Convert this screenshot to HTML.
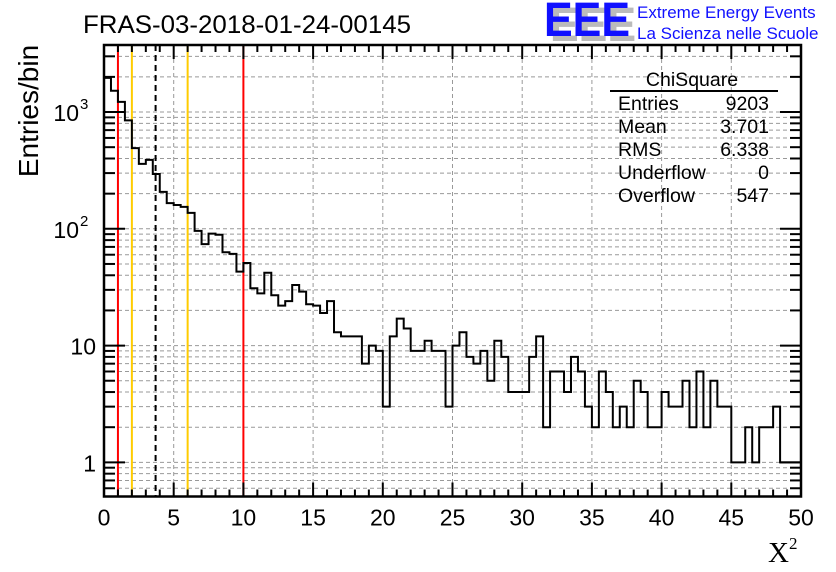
<!DOCTYPE html>
<html><head><meta charset="utf-8">
<style>
html,body{margin:0;padding:0;background:#fff;}
svg{display:block;font-family:"Liberation Sans",Arial,sans-serif;}
</style></head>
<body>
<svg id="chart" width="836" height="572" viewBox="0 0 836 572" xmlns="http://www.w3.org/2000/svg">
  <rect x="0" y="0" width="836" height="572" fill="#fff"/>
  <g id="grid"></g>
  <g id="markers"></g>
  <g id="hist"></g>
  <g id="axes"></g>
  <text x="83" y="33" font-size="25" fill="#000" textLength="328" lengthAdjust="spacingAndGlyphs">FRAS-03-2018-01-24-00145</text>
  <text transform="translate(38,111) rotate(-90)" text-anchor="middle" font-size="28" fill="#000">Entries/bin</text>
  <text x="768" y="562" font-size="29" font-family="Liberation Serif,serif" fill="#000">X<tspan font-size="17" dy="-13">2</tspan></text>
  <g>
    <text x="550" y="41" font-size="48" font-weight="bold" fill="#bbb" textLength="86" lengthAdjust="spacingAndGlyphs">EEE</text>
    <text x="544" y="36" font-size="48" font-weight="bold" fill="#1010ff" textLength="86" lengthAdjust="spacingAndGlyphs">EEE</text>
    <text x="637" y="18" font-size="17" fill="#1010ff">Extreme Energy Events</text>
    <text x="637" y="39" font-size="17" fill="#1010ff">La Scienza nelle Scuole</text>
  </g>
  <g font-size="19.5" fill="#000">
    <text x="692" y="86" text-anchor="middle">ChiSquare</text>
    <line x1="610" y1="91" x2="778" y2="91" stroke="#000" stroke-width="2"/>
    <text x="618" y="110">Entries</text><text x="769" y="110" text-anchor="end">9203</text>
    <text x="618" y="133">Mean</text><text x="769" y="133" text-anchor="end">3.701</text>
    <text x="618" y="156">RMS</text><text x="769" y="156" text-anchor="end">6.338</text>
    <text x="618" y="179">Underflow</text><text x="769" y="179" text-anchor="end">0</text>
    <text x="618" y="202">Overflow</text><text x="769" y="202" text-anchor="end">547</text>
  </g>
</svg>
<script>
const binCounts = [1960,1520,1222,848,491,360,389,295,207,166,160,154,137,96,74,91,89,63,61,43,
  51,31,28,42,27,22,24,33,29,22.6,22,19,24,13,12,12,12,7,10,9,
  3,12,17,14,9,9,11,9,9,3,10,13,8,7,9,5,11,8,4,4,
  4,8,12,2,6,6,4,8,6,3,2,6,4,2,3,2,5,4,2,2,
  4,3,3,5,2,6,2,5,3,3,1,1,2,1,2,2,3,1,1,1];
const xRange = [0,50];
const yRange = [0.51,3750];
const xTickLabels = ["0","5","10","15","20","25","30","35","40","45","50"];
const yTickValues = [1,10,100,1000];
const yTickLabels = ["1","10","10","10"];
const yTickExps = ["","","2","3"];
const refLines = [1,2,6,10];
const refColors = ["#ff0000","#ffcc00","#ffcc00","#ff0000"];
const meanValue = 3.701;

const L=104,R=801,T=45,B=496.5;
const NS="http://www.w3.org/2000/svg";
const xs=v=>L+(v-xRange[0])/(xRange[1]-xRange[0])*(R-L);
const ly0=Math.log10(yRange[0]),ly1=Math.log10(yRange[1]);
const ys=v=>B-(Math.log10(v)-ly0)/(ly1-ly0)*(B-T);
function mk(tag,attrs,parent){const e=document.createElementNS(NS,tag);for(const k in attrs)e.setAttribute(k,attrs[k]);parent.appendChild(e);return e;}
const grid=document.getElementById('grid'),axes=document.getElementById('axes'),hist=document.getElementById('hist'),markers=document.getElementById('markers');

for(let i=1;i<xTickLabels.length-1;i++){const v=+xTickLabels[i];
  const g=mk('line',{x1:xs(v),x2:xs(v),y1:T,y2:B,stroke:'#999','stroke-width':1,'stroke-dasharray':'4,3'},grid);
  
  }
for(let d=-1;d<=3;d++){for(let m=1;m<=9;m++){const v=m*Math.pow(10,d);
  if(v<yRange[0]||v>yRange[1])continue;const y=ys(v);
  const g=mk('line',{x1:L,x2:R,y1:y,y2:y,stroke:'#999','stroke-width':1,'stroke-dasharray':'4,3'},grid);
  
  
  const len=m===1?21:11;
  mk('line',{x1:L,x2:L+len,y1:y,y2:y,stroke:'#000','stroke-width':2},axes);
  mk('line',{x1:R,x2:R-len,y1:y,y2:y,stroke:'#000','stroke-width':2},axes);}}
for(let v=xRange[0];v<=xRange[1];v++){const x=xs(v);const len=v%5===0?14:7;
  mk('line',{x1:x,x2:x,y1:B,y2:B-len,stroke:'#000','stroke-width':2},axes);
  mk('line',{x1:x,x2:x,y1:T,y2:T+len,stroke:'#000','stroke-width':2},axes);}
xTickLabels.forEach(s=>{const t=mk('text',{x:xs(+s),y:B+29,'text-anchor':'middle','font-size':23},axes);t.textContent=s;
  
  });
yTickValues.forEach((v,i)=>{const t=mk('text',{x:yTickExps[i]?L-25:L-8,y:ys(v)+9,'text-anchor':'end','font-size':23},axes);t.textContent=yTickLabels[i];
  
  
  if(yTickExps[i]){const e=mk('text',{x:L-24,y:ys(v)-3,'font-size':15},axes);e.textContent=yTickExps[i];}});
const f=mk('rect',{x:L,y:T,width:R-L,height:B-T,fill:'none',stroke:'#000','stroke-width':2.5},axes);


refLines.forEach((v,i)=>{const l=mk('line',{x1:xs(v),x2:xs(v),y1:T,y2:B,stroke:refColors[i],'stroke-width':2},markers);
  
  });
const ml=mk('line',{x1:xs(meanValue),x2:xs(meanValue),y1:T,y2:B,stroke:'#000','stroke-width':2,'stroke-dasharray':'6,4'},markers);


const bw=(xRange[1]-xRange[0])/binCounts.length;
let d='';
binCounts.forEach((c,i)=>{const x0=xs(xRange[0]+i*bw),x1=xs(xRange[0]+(i+1)*bw),y=ys(c);
  d+=(i===0?'M'+x0+','+y:'L'+x0+','+y)+'L'+x1+','+y;});
const p=mk('path',{d:d,fill:'none',stroke:'#000','stroke-width':2},hist);


</script>
</body></html>
